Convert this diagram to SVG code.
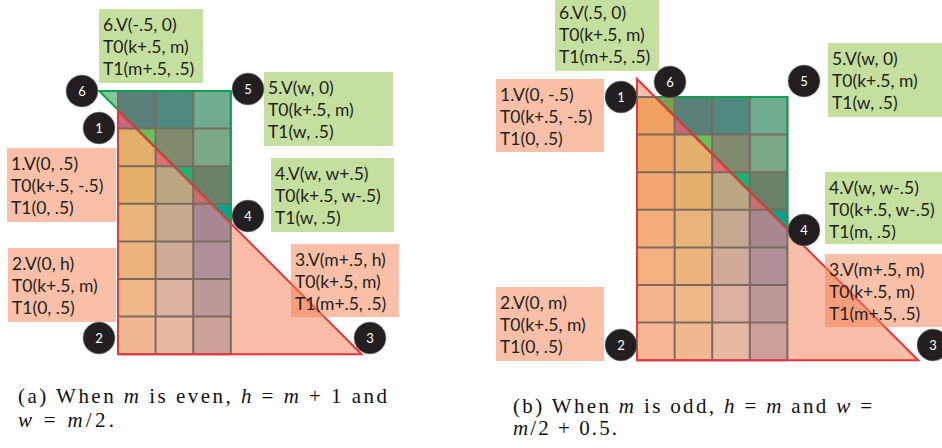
<svg xmlns="http://www.w3.org/2000/svg" width="942" height="448" viewBox="0 0 942 448">
<style>
.lbl{font-family:Lato,"Open Sans","Liberation Sans",sans-serif;font-size:17.5px;fill:#231f20}
.num{font-family:Lato,"Open Sans","Liberation Sans",sans-serif;font-size:13px;fill:#ffffff;text-anchor:middle}
.dot{fill:#231f20;stroke:#8a8a8a;stroke-width:0.6}
.gbox{fill:#c5e09e}
.rbox{fill:#f37f4f;fill-opacity:0.5}
.grid{fill:none;stroke:#7a6a62;stroke-width:2}
.gedge{fill:none;stroke:#10a050;stroke-width:2;stroke-linejoin:miter}
.redge{fill:none;stroke:#e8343c;stroke-width:2;stroke-linejoin:miter}
.cap{font-family:"Liberation Serif","DejaVu Serif",serif;font-size:21px;fill:#111}
.it{font-style:italic}
</style>

<!-- ===== Left diagram (a) ===== -->
<g id="figure-a">
  <g id="a-fills">
    <polygon points="118,109.8 118,354.2 362.4,354.2" fill="#f9bda8"/>
    <polygon points="99.2,91 118,91 118,109.8" fill="#82c89e"/>
  </g>
  <g id="a-cells">
    <rect x="118" y="91" width="37.6" height="37.6" fill="#5b807a"/>
    <rect x="155.6" y="91" width="37.6" height="37.6" fill="#4f8a80"/>
    <rect x="193.2" y="91" width="37.6" height="37.6" fill="#6fac90"/>
    <rect x="118" y="128.6" width="37.6" height="37.6" fill="#e2b06a"/>
    <rect x="155.6" y="128.6" width="37.6" height="37.6" fill="#808a6c"/>
    <rect x="193.2" y="128.6" width="37.6" height="37.6" fill="#7aa888"/>
    <rect x="118" y="166.2" width="37.6" height="37.6" fill="#e4b06c"/>
    <rect x="155.6" y="166.2" width="37.6" height="37.6" fill="#bca880"/>
    <rect x="193.2" y="166.2" width="37.6" height="37.6" fill="#6a8068"/>
    <rect x="118" y="203.8" width="37.6" height="37.6" fill="#e8b478"/>
    <rect x="155.6" y="203.8" width="37.6" height="37.6" fill="#c4a890"/>
    <rect x="193.2" y="203.8" width="37.6" height="37.6" fill="#a88890"/>
    <rect x="118" y="241.4" width="37.6" height="37.6" fill="#ecb47c"/>
    <rect x="155.6" y="241.4" width="37.6" height="37.6" fill="#d0ac98"/>
    <rect x="193.2" y="241.4" width="37.6" height="37.6" fill="#b09098"/>
    <rect x="118" y="279" width="37.6" height="37.6" fill="#f0b888"/>
    <rect x="155.6" y="279" width="37.6" height="37.6" fill="#dcb0a0"/>
    <rect x="193.2" y="279" width="37.6" height="37.6" fill="#bc9898"/>
    <rect x="118" y="316.6" width="37.6" height="37.6" fill="#f2b890"/>
    <rect x="155.6" y="316.6" width="37.6" height="37.6" fill="#e6b8a0"/>
    <rect x="193.2" y="316.6" width="37.6" height="37.6" fill="#cca098"/>
    <polygon points="118,109.8 118,128.6 136.8,128.6" fill="#c46a7d"/>
    <polygon points="136.8,128.6 155.6,128.6 155.6,147.4" fill="#6cc05a"/>
    <polygon points="155.6,147.4 155.6,166.2 174.4,166.2" fill="#e07070"/>
    <polygon points="174.4,166.2 193.2,166.2 193.2,185" fill="#20b070"/>
    <polygon points="193.2,185 193.2,203.8 212,203.8" fill="#c87070"/>
    <polygon points="212,203.8 230.8,203.8 230.8,222.6" fill="#10a090"/>
  </g>
  <path class="grid" d="M118,91H230.8M118,128.6H230.8M118,166.2H230.8M118,203.8H230.8M118,241.4H230.8M118,279H230.8M118,316.6H230.8M118,354.2H230.8M118,91V354.2M155.6,91V354.2M193.2,91V354.2M230.8,91V354.2"/>
  <g id="a-connectors">
    <polygon class="gedge" points="99.2,91 230.8,91 230.8,222.6"/>
    <polygon class="redge" points="118,110.6 118,354.2 361.6,354.2"/>
  </g>

  <g id="a-v6"><rect class="gbox" x="99" y="9" width="104" height="74"/>
    <text class="lbl" x="103" y="31">6.V(-.5, 0)</text><text class="lbl" x="103" y="53">T0(k+.5, m)</text><text class="lbl" x="103" y="75">T1(m+.5, .5)</text>
    <circle class="dot" cx="82" cy="91" r="16"/><text class="num" x="82" y="96">6</text></g>
  <g id="a-v5"><rect class="gbox" x="264" y="72" width="129" height="74"/>
    <text class="lbl" x="268" y="94">5.V(w, 0)</text><text class="lbl" x="268" y="116">T0(k+.5, m)</text><text class="lbl" x="268" y="138">T1(w, .5)</text>
    <circle class="dot" cx="248" cy="89" r="16"/><text class="num" x="248" y="94">5</text></g>
  <g id="a-v4"><rect class="gbox" x="271" y="158" width="123" height="74"/>
    <text class="lbl" x="275" y="180">4.V(w, w+.5)</text><text class="lbl" x="275" y="202">T0(k+.5, w-.5)</text><text class="lbl" x="275" y="224">T1(w, .5)</text>
    <circle class="dot" cx="248" cy="216" r="16"/><text class="num" x="248" y="221">4</text></g>
  <g id="a-v1"><rect class="rbox" x="7" y="148" width="109" height="74"/>
    <text class="lbl" x="11" y="170">1.V(0, .5)</text><text class="lbl" x="11" y="192">T0(k+.5, -.5)</text><text class="lbl" x="11" y="214">T1(0, .5)</text>
    <circle class="dot" cx="99" cy="128" r="16"/><text class="num" x="99" y="133">1</text></g>
  <g id="a-v2"><rect class="rbox" x="8" y="248" width="108" height="74"/>
    <text class="lbl" x="12" y="270">2.V(0, h)</text><text class="lbl" x="12" y="292">T0(k+.5, m)</text><text class="lbl" x="12" y="314">T1(0, .5)</text>
    <circle class="dot" cx="99" cy="338" r="16"/><text class="num" x="99" y="343">2</text></g>
  <g id="a-v3"><rect class="rbox" x="291" y="244" width="108" height="73"/>
    <text class="lbl" x="295" y="266">3.V(m+.5, h)</text><text class="lbl" x="295" y="288">T0(k+.5, m)</text><text class="lbl" x="295" y="310">T1(m+.5, .5)</text>
    <circle class="dot" cx="370" cy="338" r="16"/><text class="num" x="370" y="343">3</text></g>

  <text class="cap" x="18" y="403" textLength="369" lengthAdjust="spacing">(a) When <tspan class="it">m</tspan> is even, <tspan class="it">h</tspan> = <tspan class="it">m</tspan> + 1 and</text>
  <text class="cap" x="18" y="427" textLength="96" lengthAdjust="spacing"><tspan class="it">w</tspan> = <tspan class="it">m</tspan>/2.</text>
</g>

<!-- ===== Right diagram (b) ===== -->
<g id="figure-b">
  <g id="b-fills">
    <polygon points="637,78.2 637,360.2 919,360.2" fill="#f9bda8"/>
  </g>
  <g id="b-cells">
    <rect x="637" y="97" width="37.6" height="37.6" fill="#f0a060"/>
    <rect x="674.6" y="97" width="37.6" height="37.6" fill="#5b807a"/>
    <rect x="712.2" y="97" width="37.6" height="37.6" fill="#4f8a80"/>
    <rect x="749.8" y="97" width="37.6" height="37.6" fill="#6fac90"/>
    <rect x="637" y="134.6" width="37.6" height="37.6" fill="#f0a468"/>
    <rect x="674.6" y="134.6" width="37.6" height="37.6" fill="#e2b06a"/>
    <rect x="712.2" y="134.6" width="37.6" height="37.6" fill="#808a6c"/>
    <rect x="749.8" y="134.6" width="37.6" height="37.6" fill="#7aa888"/>
    <rect x="637" y="172.2" width="37.6" height="37.6" fill="#f2a870"/>
    <rect x="674.6" y="172.2" width="37.6" height="37.6" fill="#e4b06c"/>
    <rect x="712.2" y="172.2" width="37.6" height="37.6" fill="#bca880"/>
    <rect x="749.8" y="172.2" width="37.6" height="37.6" fill="#6a8068"/>
    <rect x="637" y="209.8" width="37.6" height="37.6" fill="#f4ac78"/>
    <rect x="674.6" y="209.8" width="37.6" height="37.6" fill="#e8b478"/>
    <rect x="712.2" y="209.8" width="37.6" height="37.6" fill="#c4a890"/>
    <rect x="749.8" y="209.8" width="37.6" height="37.6" fill="#a88890"/>
    <rect x="637" y="247.4" width="37.6" height="37.6" fill="#f5b080"/>
    <rect x="674.6" y="247.4" width="37.6" height="37.6" fill="#ecb47c"/>
    <rect x="712.2" y="247.4" width="37.6" height="37.6" fill="#d0ac98"/>
    <rect x="749.8" y="247.4" width="37.6" height="37.6" fill="#b09098"/>
    <rect x="637" y="285" width="37.6" height="37.6" fill="#f6b48a"/>
    <rect x="674.6" y="285" width="37.6" height="37.6" fill="#f0b888"/>
    <rect x="712.2" y="285" width="37.6" height="37.6" fill="#dcb0a0"/>
    <rect x="749.8" y="285" width="37.6" height="37.6" fill="#bc9898"/>
    <rect x="637" y="322.6" width="37.6" height="37.6" fill="#f8b898"/>
    <rect x="674.6" y="322.6" width="37.6" height="37.6" fill="#f2b890"/>
    <rect x="712.2" y="322.6" width="37.6" height="37.6" fill="#e6b8a0"/>
    <rect x="749.8" y="322.6" width="37.6" height="37.6" fill="#cca098"/>
    <polygon points="655.8,97 674.6,97 674.6,115.8" fill="#7aa050"/>
    <polygon points="674.6,115.8 674.6,134.6 693.4,134.6" fill="#c46a7d"/>
    <polygon points="693.4,134.6 712.2,134.6 712.2,153.4" fill="#6cc05a"/>
    <polygon points="712.2,153.4 712.2,172.2 731,172.2" fill="#e07070"/>
    <polygon points="731,172.2 749.8,172.2 749.8,191" fill="#20b070"/>
    <polygon points="749.8,191 749.8,209.8 768.6,209.8" fill="#c87070"/>
    <polygon points="768.6,209.8 787.4,209.8 787.4,228.6" fill="#10a090"/>
  </g>
  <path class="grid" d="M637,97H787.4M637,134.6H787.4M637,172.2H787.4M637,209.8H787.4M637,247.4H787.4M637,285H787.4M637,322.6H787.4M637,360.2H787.4M637,97V360.2M674.6,97V360.2M712.2,97V360.2M749.8,97V360.2M787.4,97V360.2"/>
  <g id="b-connectors">
    <polygon class="gedge" points="655.8,97 787.4,97 787.4,228.6"/>
    <polygon class="redge" points="637,79 637,360.2 918.2,360.2"/>
  </g>

  <g id="b-v6"><rect class="gbox" x="555" y="-3" width="104" height="74"/>
    <text class="lbl" x="559" y="19">6.V(.5, 0)</text><text class="lbl" x="559" y="41">T0(k+.5, m)</text><text class="lbl" x="559" y="63">T1(m+.5, .5)</text>
    <circle class="dot" cx="670" cy="82" r="16"/><text class="num" x="670" y="87">6</text></g>
  <g id="b-v1"><rect class="rbox" x="496" y="79" width="108" height="73"/>
    <text class="lbl" x="500" y="101">1.V(0, -.5)</text><text class="lbl" x="500" y="123">T0(k+.5, -.5)</text><text class="lbl" x="500" y="145">T1(0, .5)</text>
    <circle class="dot" cx="621" cy="97" r="16"/><text class="num" x="621" y="102">1</text></g>
  <g id="b-v5"><rect class="gbox" x="828" y="43" width="114" height="74"/>
    <text class="lbl" x="832" y="65">5.V(w, 0)</text><text class="lbl" x="832" y="87">T0(k+.5, m)</text><text class="lbl" x="832" y="109">T1(w, .5)</text>
    <circle class="dot" cx="804" cy="81" r="16"/><text class="num" x="804" y="86">5</text></g>
  <g id="b-v4"><rect class="gbox" x="825" y="172" width="117" height="72"/>
    <text class="lbl" x="829" y="194">4.V(w, w-.5)</text><text class="lbl" x="829" y="216">T0(k+.5, w-.5)</text><text class="lbl" x="829" y="238">T1(m, .5)</text>
    <circle class="dot" cx="804" cy="230" r="16"/><text class="num" x="804" y="235">4</text></g>
  <g id="b-v3"><rect class="rbox" x="825" y="254" width="117" height="73"/>
    <text class="lbl" x="829" y="276">3.V(m+.5, m)</text><text class="lbl" x="829" y="298">T0(k+.5, m)</text><text class="lbl" x="829" y="320">T1(m+.5, .5)</text>
    <circle class="dot" cx="933" cy="345" r="16"/><text class="num" x="933" y="350">3</text></g>
  <g id="b-v2"><rect class="rbox" x="496" y="287" width="108" height="74"/>
    <text class="lbl" x="500" y="309">2.V(0, m)</text><text class="lbl" x="500" y="331">T0(k+.5, m)</text><text class="lbl" x="500" y="353">T1(0, .5)</text>
    <circle class="dot" cx="621" cy="345" r="16"/><text class="num" x="621" y="350">2</text></g>

  <text class="cap" x="513" y="413" textLength="359" lengthAdjust="spacing">(b) When <tspan class="it">m</tspan> is odd, <tspan class="it">h</tspan> = <tspan class="it">m</tspan> and <tspan class="it">w</tspan> =</text>
  <text class="cap" x="513" y="435" textLength="104" lengthAdjust="spacing"><tspan class="it">m</tspan>/2 + 0.5.</text>
</g>
</svg>
